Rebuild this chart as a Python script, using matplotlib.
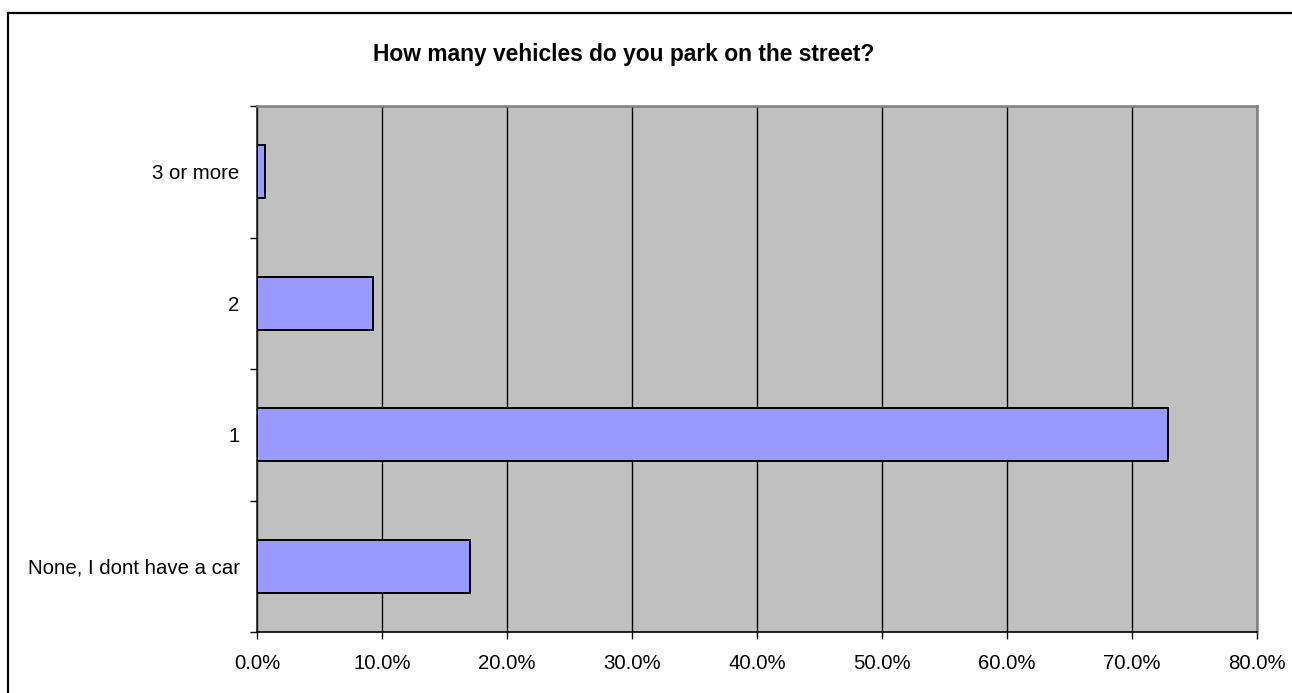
import matplotlib.pyplot as plt
from matplotlib.patches import Rectangle
from matplotlib.ticker import FixedLocator, PercentFormatter

# survey answers, bottom to top
categories = ['None, I dont have a car', '1', '2', '3 or more']
shares = [17.0, 72.9, 9.3, 0.6]  # percent of respondents
x_ticks = [0, 10, 20, 30, 40, 50, 60, 70, 80]

plt.rcParams['font.family'] = ['Liberation Sans', 'DejaVu Sans']

fig = plt.figure(figsize=(12.92, 6.93), dpi=100)

# chart frame around everything
fig.patches.append(Rectangle((8 / 1292, -0.1), 1.2, 1.1 - 13 / 693,
                             transform=fig.transFigure, fill=False,
                             edgecolor='black', linewidth=1.6))

ax = fig.add_axes([257 / 1292, 61 / 693, 1000 / 1292, 526 / 693])
ax.set_facecolor('#C0C0C0')

ypos = list(range(len(categories)))
ax.barh(ypos, shares, height=0.4, color='#9999FF', edgecolor='black',
        linewidth=1.4, zorder=3)

ax.set_xlim(0, 80)
ax.set_ylim(-0.5, len(categories) - 0.5)

# vertical gridlines every 10%
ax.set_xticks(x_ticks)
ax.xaxis.set_major_formatter(PercentFormatter(decimals=1))
ax.grid(axis='x', color='black', linewidth=1.0, zorder=1)
ax.set_axisbelow(True)

# category labels sit between the boundary ticks
ax.set_yticks(ypos)
ax.set_yticklabels(categories)
ax.yaxis.set_minor_locator(FixedLocator([i - 0.5 for i in range(len(categories) + 1)]))
ax.tick_params(axis='y', which='major', length=0, pad=12.5, labelsize=14.7)
ax.tick_params(axis='y', which='minor', length=5, width=1, direction='out')
ax.tick_params(axis='x', length=5, width=1, direction='out', pad=11, labelsize=14.7)

for side in ['top', 'right']:
    ax.spines[side].set_color('#808080')
    ax.spines[side].set_linewidth(1.8)
ax.spines['left'].set_color('#202020')
ax.spines['left'].set_linewidth(1.2)
ax.spines['bottom'].set_color('black')
ax.spines['bottom'].set_linewidth(1.2)

fig.text(624 / 1292, 1 - 54 / 693, 'How many vehicles do you park on the street?',
         ha='center', va='center', fontsize=16.4, fontweight='bold')

fig.savefig('out.png', dpi=100)
